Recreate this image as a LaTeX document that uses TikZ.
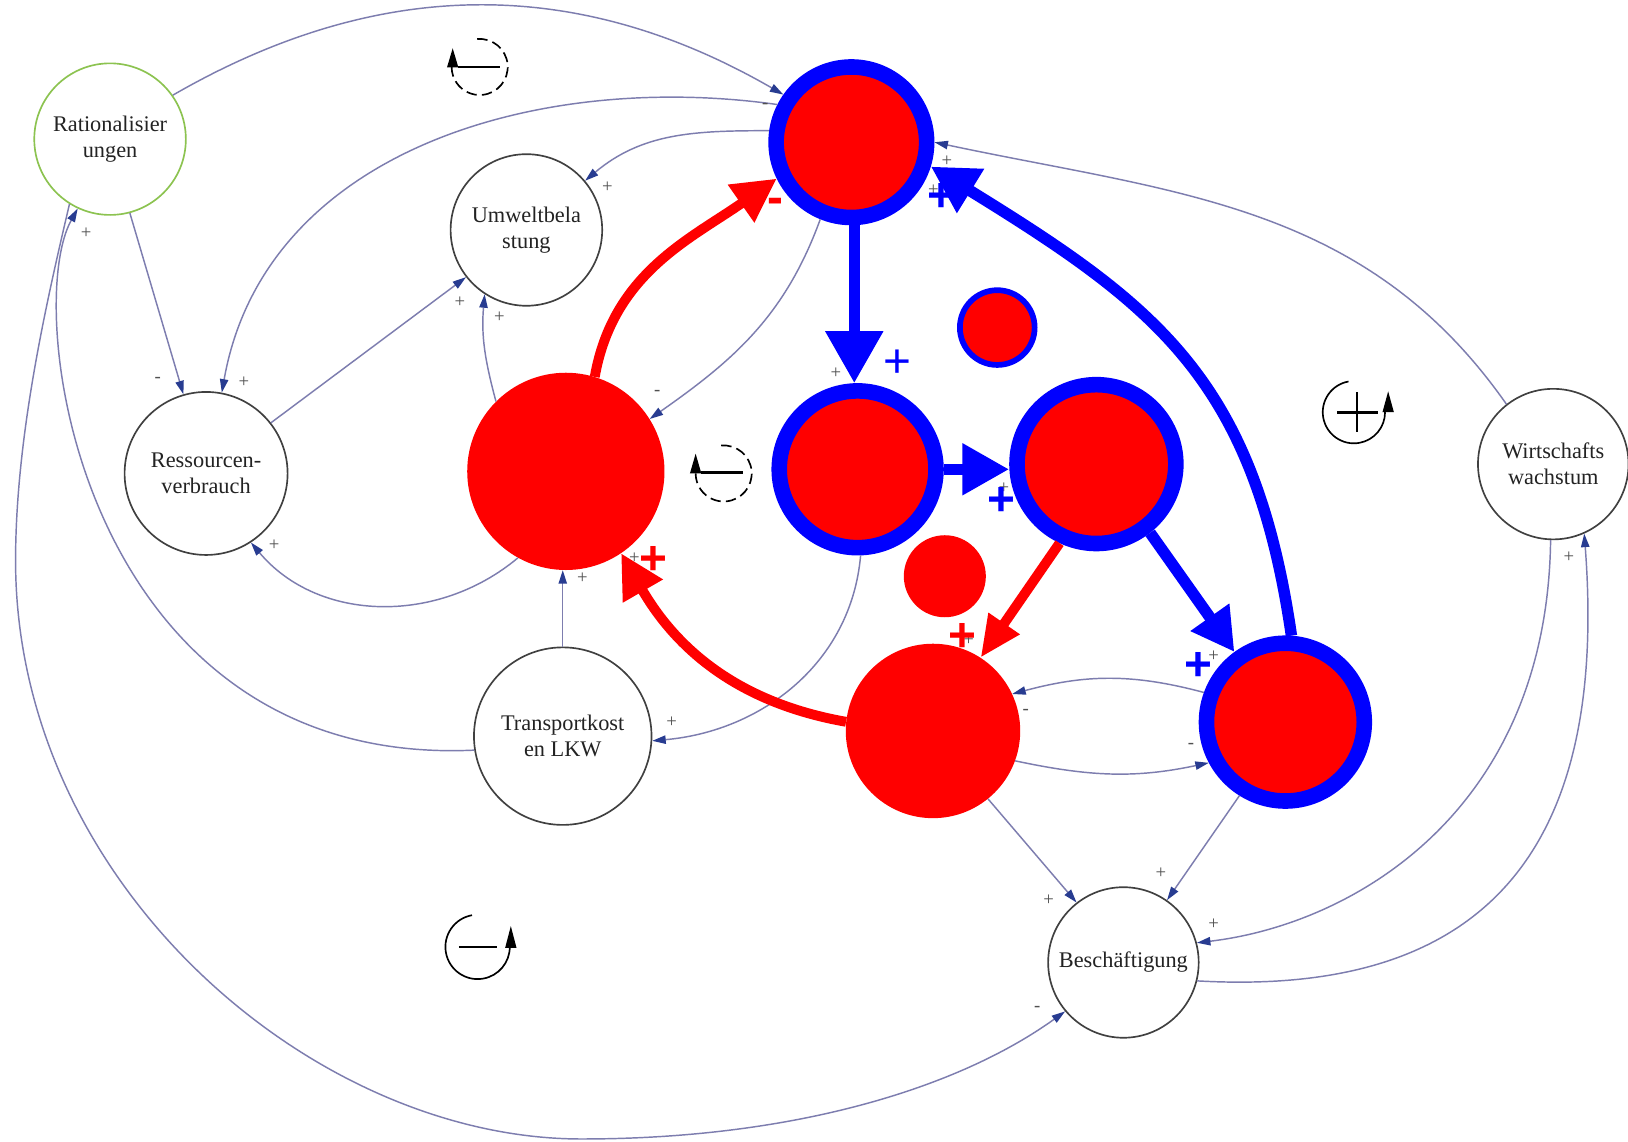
\documentclass[tikz,border=0pt]{standalone}
\usepackage{fontspec}
\setmainfont{Liberation Serif}
\newfontfamily\sansf{Liberation Sans}
\usetikzlibrary{arrows.meta}
\definecolor{linegray}{RGB}{125,125,175}
\definecolor{arrblue}{RGB}{40,60,145}
\definecolor{ratgreen}{RGB}{140,195,80}
\definecolor{txtgray}{RGB}{35,35,35}
\definecolor{lblgray}{RGB}{80,80,80}
\definecolor{pblue}{RGB}{0,0,255}
\definecolor{pred}{RGB}{255,0,0}
\tikzset{
  var/.style={circle, draw=black!75, line width=1.6pt, inner sep=0pt, align=center, text=txtgray, font=\fontsize{21.5}{25}\selectfont},
  rednode/.style={circle, fill=pred, inner sep=0pt},
  ringnode/.style={circle, fill=pred, draw=pblue, line width=15pt, inner sep=0pt},
  thinarr/.style={draw=linegray, line width=1.4pt, -{Triangle[length=13pt,width=8pt,color=arrblue]}},
  bluearr/.style={draw=pblue, line width=11pt, -{Triangle[length=45pt,width=47pt,color=pblue]}},
  redarr/.style={draw=pred, line width=9.5pt, -{Triangle[length=42pt,width=42pt,color=pred]}},
  sgn/.style={text=lblgray, font=\fontsize{18}{18}\selectfont, inner sep=0pt},
  bsgn/.style={font=\sansf\bfseries\fontsize{46}{46}\selectfont, inner sep=0pt},
  rsgn/.style={font=\sansf\fontsize{46}{46}\selectfont, inner sep=0pt},
  loopc/.style={line width=1.6pt, draw=black},
  loopdash/.style={line width=1.6pt, draw=black, dash pattern=on 10pt off 5pt},
  looptri/.style={fill=black},
  loopbar/.style={line width=2.6pt, draw=black}
}
\begin{document}
\begin{tikzpicture}[x=1pt,y=1pt]
\useasboundingbox (0,0) rectangle (1568,-1099);
\fill[white] (0,0) rectangle (1568,-1099);

% plain variables
\node[var, draw=ratgreen, minimum size=146pt] (Rat) at (106,-134) {Rationalisier\\ungen};
\node[var, minimum size=146pt] (Umw) at (507,-221.5) {Umweltbela\\stung};
\node[var, minimum size=157pt] (Res) at (198.5,-456) {Ressourcen-\\verbrauch};
\node[var, minimum size=171pt] (Trans) at (542,-709) {Transportkost\\en LKW};
\node[var, minimum size=145pt] (Besch) at (1082,-927) {Beschäftigung};
\node[var, minimum size=145pt] (Wirt) at (1496,-447) {Wirtschafts\\wachstum};

% red / blue nodes
\node[rednode, minimum size=190pt] (A) at (545,-454) {};
\node[ringnode, minimum size=145pt] (B) at (820,-137) {};
\node[ringnode, line width=5.5pt, minimum size=72pt] (C) at (960.5,-315.5) {};
\node[ringnode, minimum size=151pt] (D) at (826,-452) {};
\node[ringnode, minimum size=153pt] (E) at (1056,-447) {};
\node[rednode, minimum size=79pt] (F) at (910,-555) {};
\node[rednode, minimum size=168pt] (G) at (898.6,-704) {};
\node[ringnode, minimum size=152pt] (H) at (1238,-695.5) {};

% thin connectors
\draw[thinarr] (Rat.35) to[out=30,in=150] (B.145);
\draw[thinarr] (B.153) to[out=172,in=80] (Res.79);
\draw[thinarr] (B.172) to[out=180,in=40] (Umw.40);
\draw[thinarr] (Rat.-75) -- (Res.106);
\draw[thinarr] (Res.38) -- (Umw.218);
\draw[thinarr] (A.135) to[out=105,in=265] (Umw.237);
\draw[thinarr] (A.-119) to[out=-140,in=-50] (Res.-57);
\draw[thinarr] (B.248) to[out=250,in=35] (A.32);
\draw[thinarr] (Trans.north) -- (Trans.north |- A.south);
\draw[thinarr] (Trans.189) .. controls (80,-740) and (20,-300) .. (Rat.245);
\draw[thinarr] (Rat.238) .. controls (45,-290) and (15,-420) .. (15,-540)
   .. controls (15,-850) and (300,-1097) .. (560,-1097)
   .. controls (760,-1097) and (920,-1050) .. (Besch.220);
\draw[thinarr] (D.-88) to[out=265,in=5] (Trans.-3);
\draw[thinarr] (Wirt.128) to[out=125,in=-12] (B.0);
\draw[thinarr] (Wirt.-92) .. controls (1490,-780) and (1305,-890) .. (Besch.15);
\draw[thinarr] (Besch.-14) .. controls (1420,-960) and (1550,-830) .. (Wirt.-66);
\draw[thinarr] (G.-51) -- (Besch.128);
\draw[thinarr] (H.-122) -- (Besch.55);
\draw[thinarr] (H.160) to[out=165,in=15] (G.25);
\draw[thinarr] (G.-20) to[out=-12,in=192] (H.-152);

% thick connectors
\draw[bluearr, -{Triangle[length=50pt,width=53pt,color=pblue]}] (B.-88) -- (B.-88 |- D.north);
\draw[bluearr] (D.east) -- (D.east -| E.west);
\draw[bluearr, -{Triangle[length=41pt,width=43pt,color=pblue]}] (E.-52) -- (H.126);
\draw[bluearr] (H.86) .. controls (1208,-366) and (1115,-295) .. (B.-17);
\draw[redarr] (A.73) to[out=80,in=215] (B.206);
\draw[redarr] (G.174) to[out=170,in=-60] (A.-56);
\draw[redarr, -{Triangle[length=40pt,width=34pt,color=pred]}] (E.-115) -- (G.57);

% small grey polarity labels
\node[sgn] (g1) at (737,-102) {-};
\node[sgn] (g2) at (585,-180) {+};
\node[sgn] (g3) at (152,-366) {-};
\node[sgn] (g4) at (235,-368) {+};
\node[sgn] (g5) at (443,-291) {+};
\node[sgn] (g6) at (481,-306) {+};
\node[sgn] (g7) at (264,-525) {+};
\node[sgn] (g8) at (633,-378) {-};
\node[sgn] (g9) at (561,-557) {+};
\node[sgn] (g10) at (611,-538) {+};
\node[sgn] (g11) at (83,-225) {+};
\node[sgn] (g12) at (647,-696) {+};
\node[sgn] (g13) at (805,-359) {+};
\node[sgn] (g14) at (967,-470) {+};
\node[sgn] (g15) at (1169,-632) {+};
\node[sgn] (g16) at (933,-617) {+};
\node[sgn] (g17) at (912,-155) {+};
\node[sgn] (g18) at (899,-183) {+};
\node[sgn] (g19) at (1010,-867) {+};
\node[sgn] (g20) at (1118,-841) {+};
\node[sgn] (g21) at (1169,-890) {+};
\node[sgn] (g22) at (1511,-537) {+};
\node[sgn] (g23) at (988,-686) {-};
\node[sgn] (g24) at (1147,-718) {-};
\node[sgn] (g25) at (999,-972) {-};

% coloured polarity labels
\node[rsgn, text=pblue] (b1) at (864,-350) {+};
\node[bsgn, text=pblue] (b2) at (965,-483) {+};
\node[bsgn, text=pblue] (b3) at (1154,-642) {+};
\node[bsgn, text=pblue] (b4) at (907,-190) {+};
\node[bsgn, text=pred] (r1) at (629,-540) {+};
\node[bsgn, text=pred] (r2) at (927,-614) {+};
\node[bsgn, text=pred] (r3) at (747,-198) {-};

% loop symbols
\draw[loopdash] ([shift={(95:27)}]462,-64.5) arc[start angle=95, end angle=-180, radius=27];
\fill[looptri] (436,-46.5) -- (430.5,-65) -- (441.5,-65) -- cycle;
\draw[loopbar] (441,-64.5) -- (482,-64.5);

\draw[loopdash] ([shift={(95:27)}]697,-456) arc[start angle=95, end angle=-180, radius=27];
\fill[looptri] (670,-437) -- (664.5,-456) -- (675.5,-456) -- cycle;
\draw[loopbar] (675,-455) -- (716,-455);

\draw[loopc] ([shift={(100:30)}]1304,-397) arc[start angle=100, end angle=360, radius=30];
\fill[looptri] (1337,-377) -- (1331.5,-397) -- (1342.5,-397) -- cycle;
\draw[loopbar] (1288,-397) -- (1327,-397);
\draw[loopbar] (1307,-378) -- (1307,-416);

\draw[loopc] ([shift={(100:31)}]460,-912) arc[start angle=100, end angle=360, radius=31];
\fill[looptri] (492,-892) -- (486.5,-913) -- (497.5,-913) -- cycle;
\draw[loopbar] (442,-912) -- (479,-912);
\end{tikzpicture}
\end{document}
